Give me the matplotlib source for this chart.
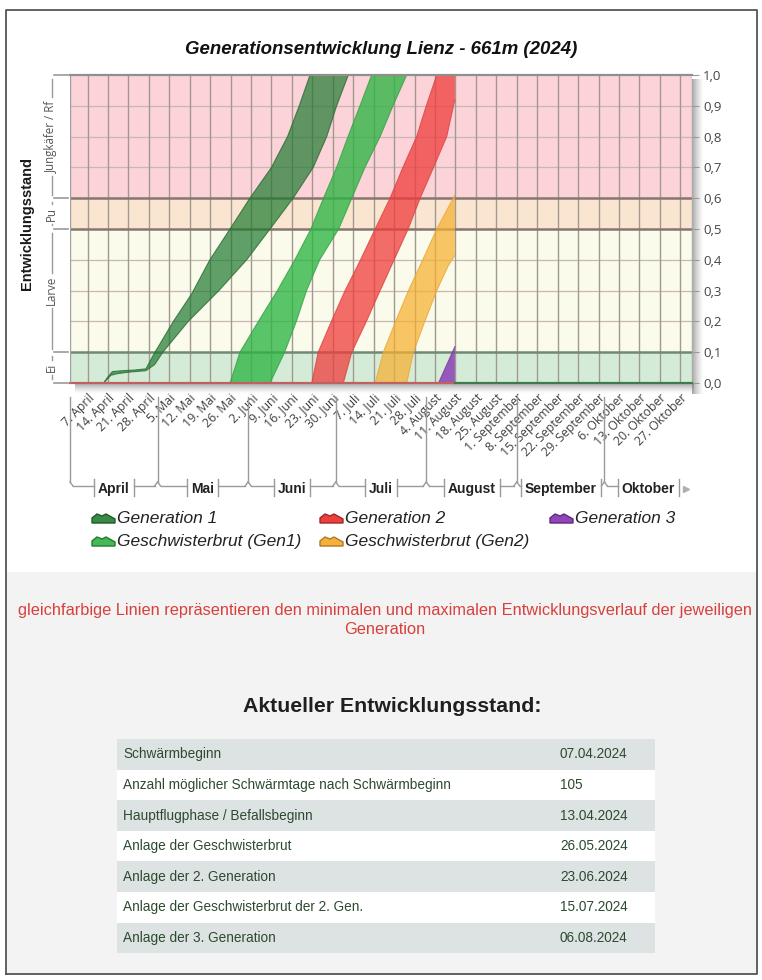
import matplotlib
matplotlib.use("Agg")
import matplotlib.pyplot as plt
from matplotlib.patches import Rectangle, Polygon
from matplotlib.transforms import blended_transform_factory
import numpy as np

W, H, DPI = 762, 980, 100

# ---------------- data ----------------
title = "Generationsentwicklung Lienz - 661m (2024)"
ylabel = "Entwicklungsstand"

# x axis: days since 1 April 2024
tick_days = [6, 13, 20, 27, 34, 41, 48, 55, 62, 69, 76, 83, 90, 97, 104,
             111, 118, 125, 132, 139, 146, 153, 160, 167, 174, 181, 188, 195, 202, 209]
tick_labels = ["7. April", "14. April", "21. April", "28. April",
               "5. Mai", "12. Mai", "19. Mai", "26. Mai",
               "2. Juni", "9. Juni", "16. Juni", "23. Juni", "30. Juni",
               "7. Juli", "14. Juli", "21. Juli", "28. Juli",
               "4. August", "11. August", "18. August", "25. August",
               "1. September", "8. September", "15. September", "22. September", "29. September",
               "6. Oktober", "13. Oktober", "20. Oktober", "27. Oktober"]
months = ["April", "Mai", "Juni", "Juli", "August", "September", "Oktober"]
month_start = [0, 30, 61, 91, 122, 153, 183]
x_end = 213

y_ticks = [0.0, 0.1, 0.2, 0.3, 0.4, 0.5, 0.6, 0.7, 0.8, 0.9, 1.0]
y_ticklabels = ["0,0", "0,1", "0,2", "0,3", "0,4", "0,5", "0,6", "0,7", "0,8", "0,9", "1,0"]

stage_names = ["Ei", "Larve", "Pu", "Jungkäfer / Rf"]
stage_bounds = [0.0, 0.1, 0.5, 0.6, 1.0]
stage_colors = ["#d4ecd7", "#fbfbec", "#f9e5d0", "#fcd3d8"]

# Generation 1 (max / min development)
gen1_max_x = [11.5, 13, 14.5, 18, 22, 26, 29.1, 35.4, 41.7, 47.9, 54.8, 61.6, 69, 74.5, 78.5, 82.2]
gen1_max_y = [0.0, 0.02, 0.037, 0.04, 0.042, 0.046, 0.1, 0.2, 0.29, 0.4, 0.5, 0.6, 0.7, 0.8, 0.9, 1.0]
gen1_min_x = [11.5, 14, 16, 20, 26, 29, 31.8, 40.5, 51, 60.5, 68.5, 76.4, 83.3, 87.9, 91.3, 95.3]
gen1_min_y = [0.0, 0.025, 0.03, 0.035, 0.04, 0.06, 0.1, 0.2, 0.3, 0.4, 0.5, 0.6, 0.7, 0.8, 0.9, 1.0]

# Geschwisterbrut (Gen1)
gb1_max_x = [54.8, 58.2, 64.5, 71, 77, 82.5, 86.8, 91.3, 95.2, 99.3, 103.3]
gb1_max_y = [0.0, 0.1, 0.2, 0.3, 0.4, 0.5, 0.6, 0.7, 0.8, 0.9, 1.0]
gb1_min_x = [68.5, 73.5, 77.5, 81, 85.5, 92, 96.5, 101, 106.2, 110.6, 115.3]
gb1_min_y = [0.0, 0.1, 0.2, 0.3, 0.4, 0.5, 0.6, 0.7, 0.8, 0.9, 1.0]

# Generation 2
gen2_max_x = [82.8, 85, 89.5, 94.2, 99.5, 104.5, 109.6, 114, 118.7, 122, 125.6, 131.8]
gen2_max_y = [0.0, 0.1, 0.2, 0.3, 0.4, 0.5, 0.6, 0.7, 0.8, 0.9, 1.0, 1.0]
gen2_min_x = [93.6, 96.5, 101.5, 106.2, 111, 115.8, 119.9, 124.5, 129, 131.8]
gen2_min_y = [0.0, 0.1, 0.2, 0.3, 0.4, 0.5, 0.6, 0.7, 0.8, 0.92]

# Geschwisterbrut (Gen2)
gb2_max_x = [104.5, 107.3, 111.5, 115.9, 120.8, 125.6, 131.8]
gb2_max_y = [0.0, 0.1, 0.2, 0.3, 0.4, 0.5, 0.61]
gb2_min_x = [115.3, 117.6, 121.5, 125.6, 129.5, 131.8]
gb2_min_y = [0.0, 0.1, 0.2, 0.3, 0.38, 0.415]

# Generation 3
gen3_max_x = [126.2, 131.8]
gen3_max_y = [0.0, 0.118]
gen3_min_x = [126.2, 131.8]
gen3_min_y = [0.0, 0.0]

legend_names = ["Generation 1", "Generation 2", "Generation 3",
                "Geschwisterbrut (Gen1)", "Geschwisterbrut (Gen2)"]

note = ("gleichfarbige Linien repräsentieren den minimalen und maximalen "
        "Entwicklungsverlauf der jeweiligen")
note2 = "Generation"
heading = "Aktueller Entwicklungsstand:"

table_labels = ["Schwärmbeginn",
                "Anzahl möglicher Schwärmtage nach Schwärmbeginn",
                "Hauptflugphase / Befallsbeginn",
                "Anlage der Geschwisterbrut",
                "Anlage der 2. Generation",
                "Anlage der Geschwisterbrut der 2. Gen.",
                "Anlage der 3. Generation"]
table_values = ["07.04.2024", "105", "13.04.2024", "26.05.2024",
                "23.06.2024", "15.07.2024", "06.08.2024"]

# ---------------- styles ----------------
series = [
    (gen1_max_x, gen1_max_y, gen1_min_x, gen1_min_y, "#1e7a30", 0.70, "#2a6a33"),
    (gb1_max_x, gb1_max_y, gb1_min_x, gb1_min_y, "#2db544", 0.78, "#37a147"),
    (gen2_max_x, gen2_max_y, gen2_min_x, gen2_min_y, "#f03c3c", 0.75, "#dc4444"),
    (gb2_max_x, gb2_max_y, gb2_min_x, gb2_min_y, "#f6b030", 0.72, "#e9a83a"),
    (gen3_max_x, gen3_max_y, gen3_min_x, gen3_min_y, "#8a3fb5", 0.85, "#7a3aa0"),
]
legend_face = {"Generation 1": ("#3a8a45", "#1f5a28"),
               "Generation 2": ("#ee3e3e", "#a02828"),
               "Generation 3": ("#9046b8", "#5e2a7a"),
               "Geschwisterbrut (Gen1)": ("#45b955", "#237a2e"),
               "Geschwisterbrut (Gen2)": ("#f6b13c", "#b07a20")}

SANS = ["Liberation Sans", "DejaVu Sans"]
OPEN = ["Open Sans", "DejaVu Sans"]

PL, PT, PR, PB = 70, 75, 692, 383

fig = plt.figure(figsize=(W / DPI, H / DPI), dpi=DPI)
fig.patch.set_facecolor("white")
renderer = fig.canvas.get_renderer()

bg = fig.add_axes([0, 0, 1, 1], zorder=0)
bg.axis("off")


def fit(t, target_w):
    bb = t.get_window_extent(renderer)
    t.set_fontsize(t.get_fontsize() * target_w / bb.width)


def grad(x0, x1, y0, y1, horizontal, a0=0.6):
    n = 40
    tt = np.linspace(0, 1, n)
    alpha = a0 * (1 - tt) ** 1.4
    if horizontal:
        arr = np.zeros((1, n, 4))
        arr[0, :, 3] = alpha
    else:
        arr = np.zeros((n, 1, 4))
        arr[:, 0, 3] = alpha
    arr[..., :3] = 0.42
    bg.imshow(arr, extent=(x0, x1, y1, y0), aspect="auto",
              interpolation="bilinear", zorder=1)


# lower grey panel + frame
bg.add_patch(Rectangle((7, 572), 750, 402, facecolor="#f3f3f3", edgecolor="none", zorder=0))
# plot shadow
grad(PR, PR + 12, PT + 5, PB + 11, True)
grad(PL + 5, PR + 2, PB, PB + 11, False)
bg.set_xlim(0, W)
bg.set_ylim(H, 0)
bg.plot([6, 6, 757, 757, 6], [974, 10, 10, 974, 974], color="#555555", lw=1.3, zorder=5)

# ---------------- main chart ----------------
ax = fig.add_axes([PL / W, 1 - PB / H, (PR - PL) / W, (PB - PT) / H], zorder=2)
ax.set_xlim(0, x_end)
ax.set_ylim(0, 1)
ax.patch.set_alpha(0)

for lo, hi, c in zip(stage_bounds[:-1], stage_bounds[1:], stage_colors):
    ax.axhspan(lo, hi, color=c, zorder=0, lw=0)

ax.hlines([v for v in y_ticks if v not in stage_bounds], 0, x_end,
          color="#c8b8b5", lw=0.9, zorder=1)
ax.vlines(tick_days, 0, 1, color="#a39890", lw=1.0, zorder=1)
ax.hlines([0.1], 0, x_end, color="#6f8a72", lw=1.8, zorder=1.5)
ax.hlines([0.5, 0.6], 0, x_end, color="#857670", lw=1.8, zorder=1.5)

for mx, my, nx, ny, fc, al, ec in series:
    px = list(mx) + list(nx)[::-1]
    py = list(my) + list(ny)[::-1]
    ax.fill(px, py, facecolor=fc, alpha=al, edgecolor="none", zorder=2)
    ax.plot(mx, my, color=ec, lw=0.8, alpha=0.8, zorder=2.5)
    ax.plot(nx, ny, color=ec, lw=0.8, alpha=0.8, zorder=2.5)

ax.plot([0, 132], [0, 0], color="#c06060", lw=1.6, zorder=3, clip_on=False)
ax.plot([132, x_end], [0, 0], color="#3f7a48", lw=1.6, zorder=3, clip_on=False)

for s in ["left", "right", "bottom"]:
    ax.spines[s].set_visible(False)
ax.spines["top"].set_color("#8f8f8f")
ax.spines["top"].set_linewidth(1.6)
ax.vlines([0, x_end], 0, 1, color="#a0a0a0", lw=1.0, zorder=3)

ax.yaxis.set_ticks_position("right")
ax.set_yticks(y_ticks)
ax.set_yticklabels(y_ticklabels, fontfamily=OPEN, fontsize=9.5, color="#444444")
ax.tick_params(axis="y", length=5, color="#999999", pad=3)

ax.set_xticks(tick_days)
ax.set_xticklabels(tick_labels, rotation=45, ha="right", va="top",
                   rotation_mode="anchor", fontfamily=OPEN, fontsize=8.8, color="#404040")
ax.tick_params(axis="x", length=0, pad=6)

# ---------------- month axis ----------------
trM = blended_transform_factory(ax.transData, bg.transData)
inv = ax.transData.inverted()
px_day = (PR - PL) / x_end
lc = "#9a9a9a"
YH, YT = 486, 397
for i, m in enumerate(months):
    s = month_start[i]
    e = month_start[i + 1] if i + 1 < len(month_start) else x_end
    c = (s + e) / 2
    t = ax.text(c, 489, m, transform=trM, ha="center", va="center", fontsize=10,
                fontweight="bold", fontfamily=SANS, color="#222222", clip_on=False)
    bb = t.get_window_extent(renderer)
    xl = inv.transform((bb.x0, 0))[0] - 4 / px_day
    xr = inv.transform((bb.x1, 0))[0] + 4 / px_day
    cur = 3 / px_day
    ax.plot([s + cur, xl], [YH, YH], transform=trM, color=lc, lw=1, clip_on=False)
    ax.plot([xl, xl], [479, 496], transform=trM, color=lc, lw=1, clip_on=False)
    ax.plot([xr, xr], [479, 496], transform=trM, color=lc, lw=1, clip_on=False)
    if i + 1 < len(month_start):
        ax.plot([xr, e - cur], [YH, YH], transform=trM, color=lc, lw=1, clip_on=False)
    else:
        ax.plot([x_end - 2.2], [489], transform=trM, marker=">", ms=5,
                color="#b0b0b0", clip_on=False)
    ax.plot([s, s], [YT, YH - 4], transform=trM, color=lc, lw=1, clip_on=False)
    ax.plot([s, s + cur], [YH - 4, YH], transform=trM, color=lc, lw=1, clip_on=False)
    if i > 0:
        ax.plot([s, s - cur], [YH - 4, YH], transform=trM, color=lc, lw=1, clip_on=False)

# ---------------- left stage brackets ----------------
trS = blended_transform_factory(bg.transData, ax.transData)
bc = "#9a9a9a"
for name, lo, hi in zip(stage_names, stage_bounds[:-1], stage_bounds[1:]):
    yc = (lo + hi) / 2
    t = ax.text(51, yc, name, transform=trS, rotation=90, ha="center", va="center",
                fontsize=8.3, fontfamily=OPEN, color="#555555", clip_on=False)
    bb = t.get_window_extent(renderer)
    half = (bb.height / 2 + 3) / (PB - PT)
    ax.plot([52, 52], [hi - 0.012, yc + half], transform=trS, color=bc, lw=1, clip_on=False)
    ax.plot([52, 52], [yc - half, lo + 0.012], transform=trS, color=bc, lw=1, clip_on=False)
for b in stage_bounds:
    ax.plot([54, 68], [b, b], transform=trS, color=bc, lw=1.2, clip_on=False)

bg.text(27, 223, ylabel, rotation=90, ha="center", va="center", fontsize=10.5,
        fontweight="bold", fontfamily=SANS, color="#1a1a1a", zorder=6)

# ---------------- title ----------------
tt = bg.text(381, 50, title, ha="center", va="center", fontsize=13.4, fontweight="bold",
             fontstyle="italic", fontfamily=SANS, color="#111111", zorder=6)
fit(tt, 392)

# ---------------- legend ----------------
leg_pos = [(92, 518), (320, 518), (550, 518), (92, 541), (320, 541)]
for name, (x0, yc) in zip(legend_names, leg_pos):
    fc, ec = legend_face[name]
    pts = [(x0, yc + 5), (x0, yc), (x0 + 5, yc - 4), (x0 + 10, yc - 2),
           (x0 + 14, yc - 4), (x0 + 23, yc + 1), (x0 + 23, yc + 5)]
    bg.add_patch(Polygon(pts, closed=True, facecolor=fc, edgecolor=ec, lw=1.0, zorder=6))
    bg.text(x0 + 25, yc, name, ha="left", va="center", fontsize=12.5,
            fontstyle="italic", fontfamily=SANS, color="#222222", zorder=6)

# ---------------- note + heading ----------------
n1 = bg.text(385, 610, note, ha="center", va="center", fontsize=11, fontfamily=SANS,
             color="#d8403c", zorder=6)
fit(n1, 730)
bg.text(385, 629, note2, ha="center", va="center", fontsize=n1.get_fontsize(),
        fontfamily=SANS, color="#d8403c", zorder=6)

hd = bg.text(392, 706, heading, ha="center", va="center", fontsize=15, fontweight="bold",
             fontfamily=SANS, color="#1f1f1f", zorder=6)
fit(hd, 298)

# ---------------- table ----------------
row_top, row_h = 739, 30.6
probe = bg.text(0, 0, table_labels[1], fontsize=10, fontfamily=SANS)
tw = probe.get_window_extent(renderer).width
probe.remove()
tfs = 10 * 328 / tw
for i, (lab, val) in enumerate(zip(table_labels, table_values)):
    y0 = row_top + i * row_h
    bg.add_patch(Rectangle((117, y0), 538, row_h,
                           facecolor="#dde3e3" if i % 2 == 0 else "#ffffff",
                           edgecolor="none", zorder=3))
    bg.text(123, y0 + row_h / 2, lab, ha="left", va="center", fontsize=tfs,
            fontfamily=SANS, color="#2d4a30", zorder=6)
    bg.text(560, y0 + row_h / 2, val, ha="left", va="center", fontsize=tfs,
            fontfamily=SANS, color="#2d4a30", zorder=6)

fig.savefig("out.png", dpi=DPI)
